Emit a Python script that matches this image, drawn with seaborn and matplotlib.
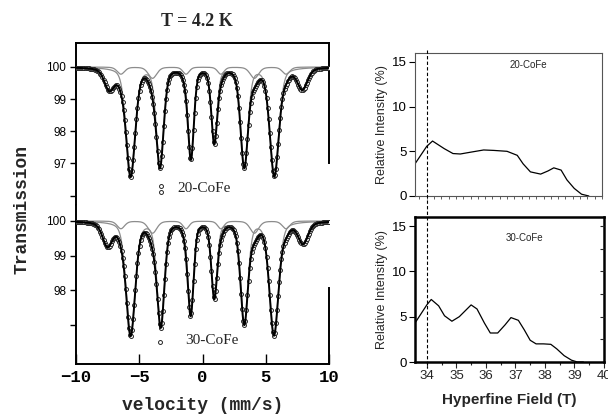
import numpy as np
import pandas as pd
import matplotlib
matplotlib.use("Agg")
import matplotlib.pyplot as plt
import seaborn as sns
from matplotlib.lines import Line2D

sns.set_theme(style="ticks")
plt.rcParams['font.family'] = ['Liberation Sans', 'DejaVu Sans']

# ---------------- data: Mossbauer spectra (peak parameters) ----------------
# 20-CoFe
top_sharp_pos = [-5.68, -3.36, -0.91, 0.93, 3.30, 5.68]
top_sharp_depth = [3.35, 3.0, 2.75, 2.3, 3.05, 3.35]
top_sharp_width = [0.85, 0.70, 0.55, 0.55, 0.70, 0.85]
top_weak_pos = [-6.45, -3.95, -1.3, 1.45, 4.1, 6.6]
top_weak_depth = [0.22, 0.35, 0.22, 0.22, 0.35, 0.22]
top_weak_width = [0.7, 0.8, 0.6, 0.6, 0.8, 0.7]
top_broad_pos = [-7.35, 7.9]
top_broad_depth = [0.66, 0.66]
top_broad_width = [0.95, 0.95]
top_extra_v = [-3.30, -3.28]
top_extra_t = [96.30, 96.10]

# 30-CoFe
bot_sharp_pos = [-5.68, -3.30, -0.93, 0.93, 3.30, 5.65]
bot_sharp_depth = [3.25, 2.95, 2.6, 2.15, 2.9, 3.25]
bot_sharp_width = [0.85, 0.70, 0.55, 0.55, 0.70, 0.85]
bot_weak_pos = [-6.45, -3.95, -1.3, 1.45, 4.1, 6.6]
bot_weak_depth = [0.22, 0.35, 0.22, 0.22, 0.35, 0.22]
bot_weak_width = [0.7, 0.8, 0.6, 0.6, 0.8, 0.7]
bot_broad_pos = [-7.5, 7.95]
bot_broad_depth = [0.68, 0.62]
bot_broad_width = [0.95, 0.95]
bot_extra_v = [-3.35]
bot_extra_t = [96.50]

# ---------------- data: hyperfine field distributions ----------------
hf20_B = [33.6, 34.0, 34.2, 34.6, 34.9, 35.15, 35.5, 35.95, 36.3, 36.75, 37.1, 37.3,
          37.55, 37.9, 38.15, 38.35, 38.6, 38.8, 39.05, 39.3, 39.55]
hf20_P = [3.6, 5.55, 6.15, 5.3, 4.75, 4.7, 4.9, 5.15, 5.1, 5.0, 4.55, 3.6,
          2.7, 2.45, 2.8, 3.15, 2.9, 1.8, 0.85, 0.2, 0.0]
hf30_B = [33.6, 34.0, 34.15, 34.4, 34.6, 34.85, 35.1, 35.5, 35.7, 35.95, 36.15, 36.4,
          36.65, 36.85, 37.1, 37.3, 37.5, 37.7, 37.95, 38.2, 38.4, 38.65, 38.9, 39.1, 39.3]
hf30_P = [4.3, 6.3, 6.9, 6.2, 5.1, 4.5, 5.0, 6.3, 5.85, 4.3, 3.2, 3.2,
          4.1, 4.9, 4.6, 3.55, 2.4, 2.0, 2.0, 1.95, 1.45, 0.7, 0.2, 0.0, 0.0]

vel_ticks = [-10, -5, 0, 5, 10]
hf_ticks = [34, 35, 36, 37, 38, 39, 40]

ETA = 0.35  # Lorentzian fraction of pseudo-Voigt line shape


def line_sum(v, pos, depth, width, eta=ETA):
    out = np.zeros_like(v)
    for p, d, w in zip(pos, depth, width):
        lor = 1.0 / (1.0 + ((v - p) / (w / 2.0)) ** 2)
        sig = w / 2.3548
        gau = np.exp(-0.5 * ((v - p) / sig) ** 2)
        out += d * (eta * lor + (1 - eta) * gau)
    return out


W, H = 608, 415
fig = plt.figure(figsize=(W / 100, H / 100), dpi=100)
fig.patch.set_facecolor('white')


def fr(x0, y0, x1, y1):
    return [x0 / W, 1 - y1 / H, (x1 - x0) / W, (y1 - y0) / H]


ax_t = fig.add_axes(fr(76, 43, 329, 205))
ax_b = fig.add_axes(fr(76, 205, 329, 364))
ax_rt = fig.add_axes(fr(415, 53, 602, 196))
ax_rb = fig.add_axes(fr(415, 217, 604, 362))

v_fit = np.linspace(-10, 10, 1500)
v_ch = np.linspace(-10, 10, 240)

mono = ['Liberation Mono', 'DejaVu Sans Mono']

specs = [
    (ax_t, top_sharp_pos, top_sharp_depth, top_sharp_width, top_weak_pos, top_weak_depth, top_weak_width,
     top_broad_pos, top_broad_depth, top_broad_width, top_extra_v, top_extra_t,
     (95.71, 100.745), [100, 99, 98, 97, 96], ['100', '99', '98', '97', ''], '20-CoFe', 204, 188),
    (ax_b, bot_sharp_pos, bot_sharp_depth, bot_sharp_width, bot_weak_pos, bot_weak_depth, bot_weak_width,
     bot_broad_pos, bot_broad_depth, bot_broad_width, bot_extra_v, bot_extra_t,
     (95.88, 100.46), [100, 99, 98, 97], ['100', '99', '98', ''], '30-CoFe', 212, 340),
]

for (ax, sp, sd, sw, wp, wd, ww, bp, bd, bw, ev, et, ylim, yt, ytl, lab, lx, ly) in specs:
    sharp = line_sum(v_fit, sp, sd, sw)
    weak = line_sum(v_fit, wp, wd, ww)
    broad = line_sum(v_fit, bp, bd, bw)
    total = 100 - sharp - weak - broad
    pts = 100 - line_sum(v_ch, sp, sd, sw) - line_sum(v_ch, wp, wd, ww) - line_sum(v_ch, bp, bd, bw)
    df = pd.DataFrame({'v': v_fit, 'total': total, 'sharp': 100 - sharp, 'weak': 100 - weak})
    sns.lineplot(data=df, x='v', y='sharp', ax=ax, color='#8c8c8c', lw=0.9, zorder=2)
    sns.lineplot(data=df, x='v', y='weak', ax=ax, color='#8c8c8c', lw=0.9, zorder=2)
    sns.scatterplot(x=v_ch, y=pts, ax=ax, marker='o', s=8, facecolor='white',
                    edgecolor='#222222', linewidth=0.7, zorder=3)
    sns.scatterplot(x=ev, y=et, ax=ax, marker='o', s=8, facecolor='white',
                    edgecolor='#222222', linewidth=0.7, zorder=3)
    sns.lineplot(data=df, x='v', y='total', ax=ax, color='black', lw=1.4, zorder=4)
    ax.set_xlim(-10, 10)
    ax.set_ylim(*ylim)
    ax.set_yticks(yt)
    ax.set_yticklabels(ytl, fontsize=8.5, family=['Liberation Sans'])
    ax.set_xlabel('')
    ax.set_ylabel('')
    ax.tick_params(axis='y', direction='out', length=4, width=1.0, pad=3, colors='black')
    ax.text(lx / W, 1 - ly / H, lab, transform=fig.transFigure, fontsize=11,
            family=['Liberation Serif'], ha='center', va='center')
    for s in ax.spines.values():
        s.set_color('black')
        s.set_linewidth(1.4)

ax_t.spines['bottom'].set_visible(False)
ax_t.spines['right'].set_bounds(97.0, 100.745)
ax_b.spines['top'].set_visible(False)
ax_b.spines['right'].set_bounds(95.88, 98.07)
ax_t.set_xticks([])
ax_b.set_xticks(vel_ticks)
ax_b.set_xticklabels(['\u221210', '\u22125', '0', '5', '10'], fontsize=12.5, family=mono,
                     fontweight='bold')
ax_b.tick_params(axis='x', direction='in', length=7, width=1.0, pad=4, colors='black')
ax_t.tick_params(axis='x', length=0)

fig.text(203 / W, 1 - 405 / H, 'velocity (mm/s)', fontsize=13, family=mono, fontweight='bold',
         ha='center', va='center')
fig.text(22 / W, 1 - 210 / H, 'Transmission', fontsize=13, family=mono, fontweight='bold',
         ha='center', va='center', rotation=90)
fig.text(197 / W, 1 - 21 / H, 'T = 4.2 K', fontsize=13, family=['Liberation Serif'],
         fontweight='bold', ha='center', va='center')

# ---------------- right panels ----------------
for ax, B, P, lab, lx, ly in [(ax_rt, hf20_B, hf20_P, '20-CoFe', 528, 65),
                             (ax_rb, hf30_B, hf30_P, '30-CoFe', 525, 238)]:
    sns.lineplot(x=B, y=P, ax=ax, color='black', lw=0.9)
    ax.set_xlim(33.6, 40)
    ax.set_ylim(0, 16)
    ax.set_yticks([0, 5, 10, 15])
    ax.set_yticklabels(['0', '5', '10', '15'], fontsize=9.5)
    ax.set_ylabel('Relative Intensity (%)', fontsize=9, labelpad=3)
    ax.tick_params(axis='y', direction='out', length=4, width=0.8, pad=2, colors='black')
    ax.text(lx / W, 1 - ly / H, lab, transform=fig.transFigure, fontsize=7,
            ha='center', va='center')

ax_rt.set_xticks([])
ax_rt.set_xticks(np.arange(33.75, 40.01, 0.25), minor=True)
ax_rt.tick_params(axis='x', which='minor', direction='out', length=2, width=0.6, colors='#444444')
for s in ax_rt.spines.values():
    s.set_color('#555555')
    s.set_linewidth(0.8)

ax_rb.set_xticks(hf_ticks)
ax_rb.set_xticklabels([str(t) for t in hf_ticks], fontsize=9.5)
ax_rb.set_xticks(np.arange(34.5, 40.01, 0.5), minor=True)
ax_rb.tick_params(axis='x', which='major', direction='out', length=4, width=0.8, pad=2)
ax_rb.tick_params(axis='x', which='minor', direction='out', length=2.5, width=0.8)
ax_rb.set_xlabel('Hyperfine Field (T)', fontsize=11, fontweight='bold', labelpad=8)
for s in ax_rb.spines.values():
    s.set_color('black')
    s.set_linewidth(1.8)
# right-side inward ticks on the lower panel
ax_rb2 = ax_rb.twinx()
ax_rb2.set_ylim(0, 16)
ax_rb2.set_yticks(np.arange(2.5, 16, 2.5))
ax_rb2.set_yticklabels([])
ax_rb2.tick_params(axis='y', direction='in', length=3, width=0.8)
for s in ax_rb2.spines.values():
    s.set_visible(False)

# dashed vertical line at 34 T spanning both right panels
xdisp = ax_rb.transData.transform((34.0, 0.0))[0]
xfig = fig.transFigure.inverted().transform((xdisp, 0))[0]
fig.add_artist(Line2D([xfig, xfig], [1 - 50 / H, 1 - 368 / H], transform=fig.transFigure,
                      color='black', lw=0.8, ls=(0, (3, 2))))

fig.savefig('out.png', dpi=100, facecolor='white')
